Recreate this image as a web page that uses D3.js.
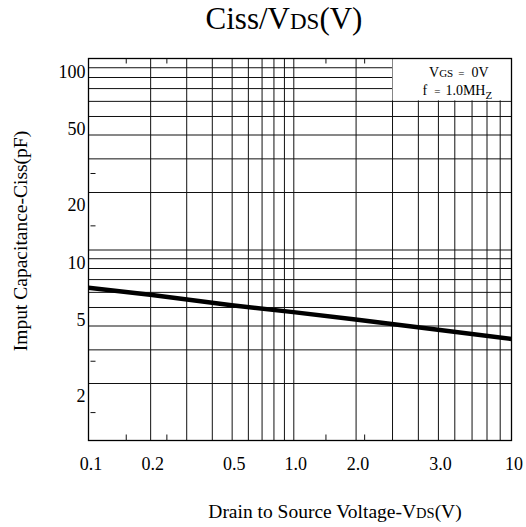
<!DOCTYPE html>
<html>
<head>
<meta charset="utf-8">
<script src="https://cdn.jsdelivr.net/npm/d3@7"></script>
<style>
  html, body { margin: 0; padding: 0; background: #fff; }
  svg { display: block; }
  text { font-family: "Liberation Serif", "Times New Roman", serif; fill: #000; }
</style>
</head>
<body>
<svg id="chart" width="526" height="527"></svg>
<script>
// ---- data ----
const vds = [0.1, 0.2, 0.5, 1, 2, 5, 10];              // Drain-source voltage (V)
const ciss = [6.3, 5.8, 5.1, 4.7, 4.3, 3.8, 3.4];       // Input capacitance (pF)

const xTickValues = [0.1, 0.2, 0.5, 1, 2, 5, 10];
const xTickLabels = ["0.1", "0.2", "0.5", "1.0", "2.0", "3.0", "10"];
const yTickValues = [100, 50, 20, 10, 5, 2];
const yTickLabels = ["100", "50", "20", "10", "5", "2"];

const xGrid = [0.2, 0.3, 0.4, 0.5, 0.6, 0.7, 0.8, 0.9, 1, 2, 3, 4, 5, 6, 7, 8, 9];
const yGrid = [2, 3, 4, 5, 6, 7, 8, 9, 10, 20, 30, 40, 50, 60, 70, 80, 90];
const xMinorTicks = [0.152, 0.24, 1.43, 2.2];
const yMinorTicks = [25, 13.3, 2.6, 1.4];

// ---- layout ----
const svg = d3.select("#chart");
const L = 88.5, R = 511.5, T = 58.5, B = 440.5;

const x = d3.scaleLog().domain([0.1, 1, 6, 10]).range([L, 293.3, 454.3, R]);
const y = d3.scaleLog().domain([1, 100]).range([B, T]);

const ink = "#111";

// grid (vertical)
const gx = svg.append("g").attr("transform", `translate(0,${B})`)
  .call(d3.axisBottom(x).tickValues(xGrid).tickSize(-(B - T)).tickFormat(""));
gx.select(".domain").remove();
gx.selectAll("line").attr("stroke", ink).attr("stroke-width", 1);

// grid (horizontal)
const gy = svg.append("g").attr("transform", `translate(${L},0)`)
  .call(d3.axisLeft(y).tickValues(yGrid).tickSize(-(R - L)).tickFormat(""));
gy.select(".domain").remove();
gy.selectAll("line").attr("stroke", ink).attr("stroke-width", 1);

// legend area (blank box in upper right)
svg.append("rect")
  .attr("x", x(3) + 0.5).attr("y", T)
  .attr("width", R - x(3) - 0.5).attr("height", y(60) - T - 0.5)
  .attr("fill", "#fff");

// frame
svg.append("rect").attr("x", L).attr("y", T).attr("width", R - L).attr("height", B - T)
  .attr("fill", "none").attr("stroke", "#000").attr("stroke-width", 1.3);

// minor ticks bottom / top
const mb = svg.append("g").attr("transform", `translate(0,${B})`)
  .call(d3.axisBottom(x).tickValues(xMinorTicks).tickSize(-6).tickFormat(""));
mb.select(".domain").remove();
mb.selectAll("line").attr("stroke", ink);
const mt = svg.append("g").attr("transform", `translate(0,${T})`)
  .call(d3.axisTop(x).tickValues(xMinorTicks).tickSize(-5).tickFormat(""));
mt.select(".domain").remove();
mt.selectAll("line").attr("stroke", ink);
// minor dashes left
svg.append("g").selectAll("line").data(yMinorTicks).join("line")
  .attr("x1", L + 2).attr("x2", L + 7)
  .attr("y1", d => y(d)).attr("y2", d => y(d))
  .attr("stroke", ink).attr("stroke-width", 1);

// x tick labels
const ax = svg.append("g").attr("transform", `translate(0,${B})`)
  .call(d3.axisBottom(x).tickValues(xTickValues).tickSize(0).tickPadding(17)
    .tickFormat((d, i) => xTickLabels[i]));
ax.select(".domain").remove();
ax.selectAll("text").style("font-family", "Liberation Serif").style("font-size", "18px")
  .attr("dx", 2);

// y tick labels
const ay = svg.append("g").attr("transform", `translate(${L},0)`)
  .call(d3.axisLeft(y).tickValues(yTickValues).tickSize(0).tickPadding(3)
    .tickFormat((d, i) => yTickLabels[i]));
ay.select(".domain").remove();
ay.selectAll("text").style("font-family", "Liberation Serif").style("font-size", "18px")
  .attr("dy", "1.05em");

// curve
svg.append("path")
  .datum(vds.map((v, i) => [v, ciss[i]]))
  .attr("fill", "none").attr("stroke", "#000").attr("stroke-width", 4.5)
  .attr("d", d3.line().x(d => x(d[0])).y(d => y(d[1])));

// legend text
const lg1 = svg.append("text").attr("x", 429).attr("y", 77).style("font-size", "14px");
lg1.append("tspan").text("V");
lg1.append("tspan").style("font-size", "11px").text("GS");
lg1.append("tspan").attr("dx", 5).style("font-size", "11px").text("=");
lg1.append("tspan").attr("dx", 7).text("0V");
const lg2 = svg.append("text").attr("x", 422.5).attr("y", 95).style("font-size", "14px");
lg2.append("tspan").text("f");
lg2.append("tspan").attr("dx", 7).style("font-size", "11px").text("=");
lg2.append("tspan").attr("dx", 5).text("1.0MH");
lg2.append("tspan").attr("dy", 4).style("font-size", "11px").text("Z");

// title
const tt = svg.append("text").attr("x", 284).attr("y", 28.5)
  .attr("text-anchor", "middle").style("font-size", "31px");
tt.append("tspan").text("Ciss/V");
tt.append("tspan").style("font-size", "23px").text("DS");
tt.append("tspan").text("(V)");

// x-axis title
const xt = svg.append("text").attr("x", 335).attr("y", 518)
  .attr("text-anchor", "middle").style("font-size", "19.5px");
xt.append("tspan").text("Drain to Source Voltage-V");
xt.append("tspan").style("font-size", "14.5px").text("DS");
xt.append("tspan").text("(V)");

// y-axis title
svg.append("text").attr("transform", "translate(27,241) rotate(-90)")
  .attr("text-anchor", "middle").style("font-size", "19.5px")
  .text("Imput Capacitance-Ciss(pF)");
</script>
</body>
</html>
